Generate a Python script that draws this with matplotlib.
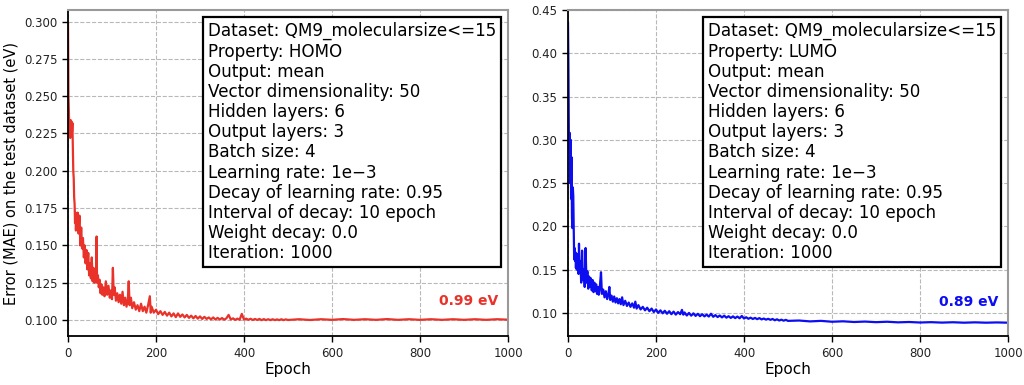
import matplotlib.pyplot as plt

# HOMO curve
homo_epoch = [0, 1, 2, 3, 4, 5, 6, 7, 8, 9, 10, 11, 12, 13, 14, 15, 16, 17, 18, 19, 20,
              22, 24, 26, 28, 30, 32, 34, 36, 38, 40, 42, 44, 46, 48, 50, 52, 54, 56, 58,
              60, 62, 64, 65, 66, 68, 70, 72, 74, 76, 78, 80, 83, 86, 89, 92, 95, 98, 100,
              102, 104, 106, 109, 112, 115, 118, 121, 124, 127, 130, 133, 136, 138, 140,
              143, 146, 150, 154, 158, 162, 166, 170, 174, 178, 182, 186, 188, 190, 195,
              200, 205, 210, 215, 220, 225, 230, 235, 240, 245, 250, 255, 260, 265, 270,
              275, 280, 285, 290, 295, 300, 305, 310, 315, 320, 325, 330, 335, 340, 345,
              350, 355, 360, 365, 370, 375, 380, 385, 390, 395, 400, 405, 410, 415, 420,
              425, 430, 435, 440, 445, 450, 455, 460, 465, 470, 475, 480, 485, 490, 495,
              500, 525, 550, 575, 600, 625, 650, 675, 700, 725, 750, 775, 800, 825, 850,
              875, 900, 925, 950, 975, 1000]
homo_mae = [0.299, 0.250, 0.240, 0.225, 0.232, 0.222, 0.234, 0.224, 0.233, 0.226, 0.232,
            0.215, 0.200, 0.195, 0.182, 0.178, 0.165, 0.172, 0.160, 0.168, 0.162,
            0.172, 0.158, 0.170, 0.150, 0.162, 0.148, 0.155, 0.142, 0.150, 0.138, 0.147,
            0.134, 0.145, 0.130, 0.138, 0.128, 0.142, 0.126, 0.135,
            0.125, 0.132, 0.128, 0.156, 0.125, 0.130, 0.122, 0.127, 0.118, 0.124, 0.117,
            0.122, 0.116, 0.126, 0.117, 0.123, 0.115, 0.120, 0.114,
            0.135, 0.117, 0.122, 0.113, 0.118, 0.112, 0.117, 0.111, 0.119, 0.110, 0.115,
            0.109, 0.114, 0.126, 0.110,
            0.115, 0.108, 0.112, 0.107, 0.110, 0.106, 0.111, 0.106, 0.109, 0.105, 0.110,
            0.116, 0.105, 0.109, 0.105,
            0.107, 0.104, 0.106, 0.1035, 0.1055, 0.103, 0.105, 0.1025, 0.1045, 0.102,
            0.1045, 0.1022, 0.1038, 0.1018, 0.1035,
            0.1015, 0.103, 0.1012, 0.1028, 0.101, 0.1025, 0.1008, 0.1022, 0.1008, 0.1018,
            0.1005, 0.1018, 0.1004, 0.1015, 0.1004,
            0.1014, 0.1003, 0.1012, 0.1035, 0.1004, 0.1012, 0.1002, 0.101, 0.1002, 0.1042,
            0.1003, 0.101, 0.1002, 0.1009, 0.1001,
            0.1008, 0.1001, 0.1008, 0.1000, 0.1007, 0.1000, 0.1006, 0.1000, 0.1006, 0.1000,
            0.1005, 0.1000, 0.1006, 0.1000, 0.1005,
            0.1001, 0.1006, 0.1001, 0.1006, 0.1002, 0.1007, 0.1002, 0.1006, 0.1002, 0.1007,
            0.1002, 0.1006, 0.1002, 0.1006, 0.1002,
            0.1006, 0.1002, 0.1006, 0.1002, 0.1006, 0.1003]

# LUMO curve
lumo_epoch = [0, 1, 2, 3, 4, 5, 6, 7, 8, 9, 10, 11, 12, 13, 14, 15, 16, 17, 18, 19, 20,
              22, 24, 25, 26, 28, 30, 32, 34, 36, 38, 40, 42, 44, 46, 48, 50, 52, 54, 56,
              58, 60, 62, 64, 66, 68, 70, 72, 75, 77, 80, 83, 86, 89, 92, 94, 96, 99, 102,
              105, 108, 111, 114, 117, 120, 123, 126, 130, 134, 138, 142, 146, 150, 153,
              156, 160, 165, 170, 175, 180, 185, 190, 195,
              200, 205, 210, 215, 220, 225, 230, 235, 240, 245, 250, 255, 259, 262, 265,
              270, 275, 280, 285, 290, 295, 300, 305, 310, 315, 320, 325, 330, 335, 340,
              345, 350, 355, 360, 365, 370, 375, 380, 385, 390, 395, 400, 405, 410, 415,
              420, 425, 430, 435, 440, 445, 450, 455, 460, 465, 470, 475, 480, 485, 490,
              495, 500, 525, 550, 575, 600, 625, 650, 675, 700, 725, 750, 775, 800, 825,
              850, 875, 900, 925, 950, 975, 1000]
lumo_mae = [0.435, 0.380, 0.300, 0.290, 0.308, 0.250, 0.300, 0.232, 0.280, 0.210, 0.198,
            0.245, 0.235, 0.200, 0.162, 0.175, 0.160, 0.170, 0.152, 0.165, 0.150,
            0.168, 0.145, 0.180, 0.148, 0.160, 0.135, 0.172, 0.138, 0.150, 0.130, 0.175,
            0.135, 0.148, 0.128, 0.142, 0.130, 0.140, 0.126, 0.138,
            0.124, 0.135, 0.125, 0.133, 0.122, 0.130, 0.121, 0.128, 0.147, 0.122, 0.127,
            0.118, 0.125, 0.116, 0.122, 0.130, 0.115, 0.120, 0.113,
            0.119, 0.112, 0.117, 0.111, 0.116, 0.110, 0.118, 0.109, 0.114, 0.108, 0.112,
            0.107, 0.111, 0.106, 0.113,
            0.105, 0.109, 0.104, 0.107, 0.103, 0.106, 0.102, 0.105, 0.101,
            0.104, 0.100, 0.103, 0.0995, 0.1025, 0.099, 0.102, 0.0985, 0.1015, 0.098,
            0.101, 0.0985, 0.1035, 0.098, 0.1005,
            0.097, 0.100, 0.0968, 0.0995, 0.0965, 0.099, 0.0962, 0.0985, 0.096, 0.098,
            0.0958, 0.099, 0.0955, 0.0975, 0.0952,
            0.097, 0.0948, 0.0968, 0.0945, 0.0962, 0.0942, 0.096, 0.094, 0.0958, 0.0938,
            0.0965, 0.0935, 0.095, 0.0932, 0.0945,
            0.093, 0.0942, 0.0928, 0.094, 0.0925, 0.0935, 0.0922, 0.0932, 0.092, 0.093,
            0.0915, 0.0926, 0.0912, 0.0922, 0.091,
            0.092, 0.0908, 0.0912, 0.0902, 0.0908, 0.0898, 0.0903, 0.0895, 0.0900, 0.0893,
            0.0898, 0.0891, 0.0895, 0.0889, 0.0893,
            0.0888, 0.0892, 0.0887, 0.0891, 0.0887, 0.0890, 0.0887]

info = ['Dataset: QM9_molecularsize<=15', 'Property: {}', 'Output: mean',
        'Vector dimensionality: 50', 'Hidden layers: 6', 'Output layers: 3',
        'Batch size: 4', 'Learning rate: 1e\u22123', 'Decay of learning rate: 0.95',
        'Interval of decay: 10 epoch', 'Weight decay: 0.0', 'Iteration: 1000']

panels = [
    (homo_epoch, homo_mae, 'HOMO', '#e8322a', '0.99 eV', 0.1125, (0.0893, 0.3077),
     [0.100, 0.125, 0.150, 0.175, 0.200, 0.225, 0.250, 0.275, 0.300], '{:.3f}'),
    (lumo_epoch, lumo_mae, 'LUMO', '#0d0df2', '0.89 eV', 0.1128, (0.0732, 0.450),
     [0.10, 0.15, 0.20, 0.25, 0.30, 0.35, 0.40, 0.45], '{:.2f}'),
]

fig = plt.figure(figsize=(10.24, 3.85), dpi=100)
lefts = [68 / 1024, 568 / 1024]
for left, (ep, mae, prop, color, label, ly, ylim, yt, fmt) in zip(lefts, panels):
    ax = fig.add_axes([left, 0.127, 440 / 1024, 0.847])
    ax.plot(ep, mae, color=color, lw=1.6)
    ax.set_xlim(0, 1000)
    ax.set_ylim(*ylim)
    ax.set_xticks([0, 200, 400, 600, 800, 1000])
    ax.set_yticks(yt)
    ax.set_yticklabels([fmt.format(v) for v in yt])
    ax.grid(True, ls='--', color='#b8b8b8', lw=0.8)
    ax.tick_params(labelsize=8.5, length=4, width=1, colors='black', labelcolor='#222222')
    for s in ['left', 'bottom']:
        ax.spines[s].set_color('black')
        ax.spines[s].set_linewidth(1.3)
    for s in ['top', 'right']:
        ax.spines[s].set_color('#999999')
        ax.spines[s].set_linewidth(1.5)
    ax.set_xlabel('Epoch', fontsize=11, labelpad=2)
    ax.text(0.318, 0.963, '\n'.join(info).format(prop), transform=ax.transAxes,
            ha='left', va='top', fontsize=12.1, linespacing=1.155,
            bbox=dict(boxstyle='square,pad=0.3', fc='white', ec='black', lw=1.6))
    ax.text(977, ly, label, color=color, fontsize=10, fontweight='bold',
            ha='right', va='center')
    if prop == 'HOMO':
        ax.set_ylabel('Error (MAE) on the test dataset (eV)', fontsize=10.5, labelpad=4)

fig.savefig('out.png', dpi=100)
